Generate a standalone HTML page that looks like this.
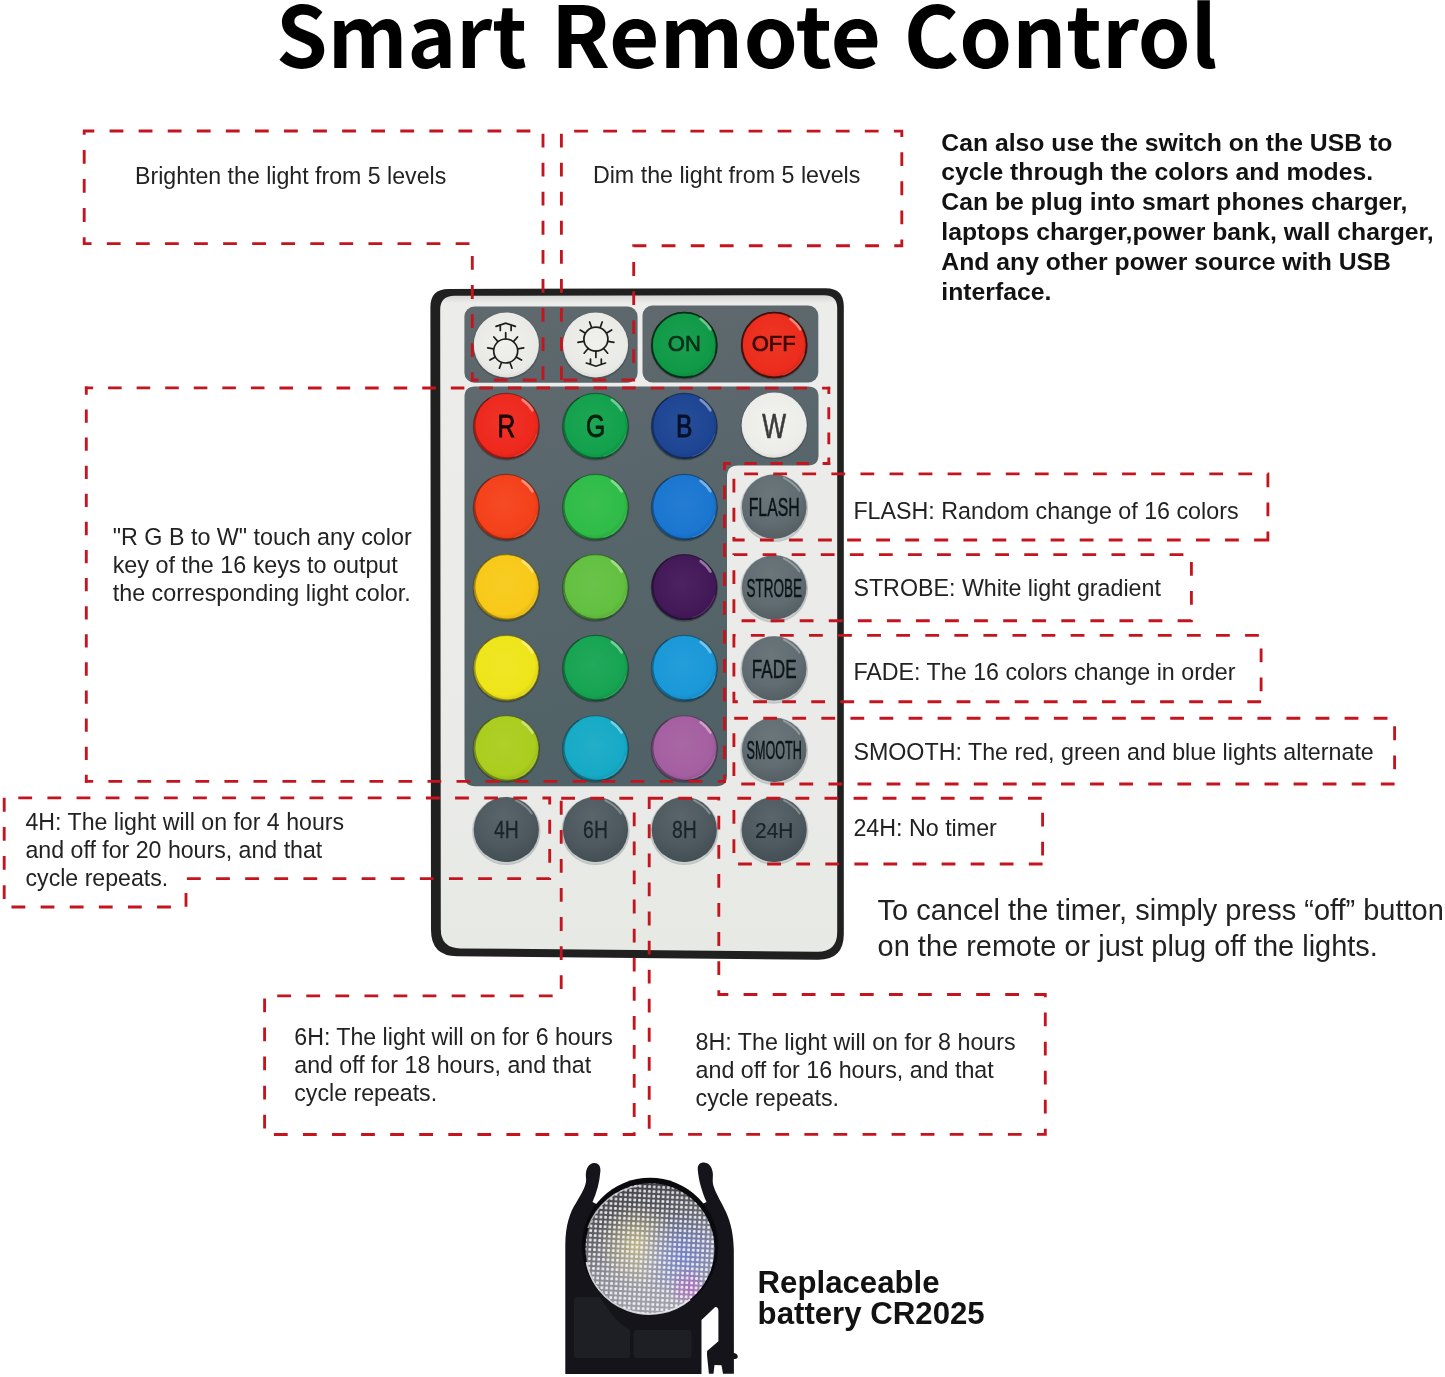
<!DOCTYPE html>
<html lang="en">
<head>
<meta charset="utf-8">
<title>Smart Remote Control</title>
<style>
html,body{margin:0;padding:0;background:#fff;}
body{width:1445px;height:1377px;overflow:hidden;}
svg{display:block;will-change:transform;}
text{font-family:"Liberation Sans",Arial,Helvetica,sans-serif;fill:#222;}
text.b{font-weight:bold;fill:#121212;}
text.title{font-family:"Noto Sans CJK SC","Liberation Sans",sans-serif;font-weight:bold;font-size:84.8px;fill:#000;}
</style>
</head>
<body>
<svg width="1445" height="1377" viewBox="0 0 1445 1377">
<defs>
<linearGradient id="face" x1="0" y1="0" x2="0" y2="1"><stop offset="0" stop-color="#d6d7d5"/><stop offset="0.012" stop-color="#ecedeb"/><stop offset="0.7" stop-color="#eaebe8"/><stop offset="1" stop-color="#e7e9e5"/></linearGradient>
<linearGradient id="panel" x1="0" y1="0" x2="1" y2="1"><stop offset="0" stop-color="#60696e"/><stop offset="1" stop-color="#59666b"/></linearGradient>
<linearGradient id="panel2" x1="0" y1="0" x2="0.25" y2="1"><stop offset="0" stop-color="#5f696e"/><stop offset="0.35" stop-color="#58666b"/><stop offset="1" stop-color="#506267"/></linearGradient>
<radialGradient id="b1" cx="0.5" cy="0.45" r="0.6"><stop offset="0" stop-color="#f0f0ed"/><stop offset="0.8" stop-color="#e9e9e5"/><stop offset="1" stop-color="#d2d2ce"/></radialGradient>
<radialGradient id="b2" cx="0.5" cy="0.45" r="0.6"><stop offset="0" stop-color="#f0f0ed"/><stop offset="0.8" stop-color="#e9e9e5"/><stop offset="1" stop-color="#d2d2ce"/></radialGradient>
<radialGradient id="b3" cx="0.47" cy="0.45" r="0.58"><stop offset="0" stop-color="#1b9f50"/><stop offset="0.8" stop-color="#0f9a47"/><stop offset="1" stop-color="#0d843d"/></radialGradient>
<radialGradient id="b4" cx="0.47" cy="0.45" r="0.58"><stop offset="0" stop-color="#ed3727"/><stop offset="0.8" stop-color="#ec2c1c"/><stop offset="1" stop-color="#cb2618"/></radialGradient>
<radialGradient id="b5" cx="0.47" cy="0.45" r="0.58"><stop offset="0" stop-color="#ef3328"/><stop offset="0.8" stop-color="#ee281d"/><stop offset="1" stop-color="#cd2219"/></radialGradient>
<radialGradient id="b6" cx="0.47" cy="0.45" r="0.58"><stop offset="0" stop-color="#1ea655"/><stop offset="0.8" stop-color="#12a14c"/><stop offset="1" stop-color="#0f8a41"/></radialGradient>
<radialGradient id="b7" cx="0.47" cy="0.45" r="0.58"><stop offset="0" stop-color="#284e98"/><stop offset="0.8" stop-color="#1d4593"/><stop offset="1" stop-color="#193b7e"/></radialGradient>
<radialGradient id="b8" cx="0.5" cy="0.45" r="0.6"><stop offset="0" stop-color="#f2f2ef"/><stop offset="0.8" stop-color="#ecece8"/><stop offset="1" stop-color="#d4d4d1"/></radialGradient>
<radialGradient id="b9" cx="0.47" cy="0.45" r="0.58"><stop offset="0" stop-color="#f54a25"/><stop offset="0.8" stop-color="#f4411a"/><stop offset="1" stop-color="#d23816"/></radialGradient>
<radialGradient id="b10" cx="0.47" cy="0.45" r="0.58"><stop offset="0" stop-color="#39bf50"/><stop offset="0.8" stop-color="#2fbc47"/><stop offset="1" stop-color="#28a23d"/></radialGradient>
<radialGradient id="b11" cx="0.47" cy="0.45" r="0.58"><stop offset="0" stop-color="#257dd2"/><stop offset="0.8" stop-color="#1a76d0"/><stop offset="1" stop-color="#1665b3"/></radialGradient>
<radialGradient id="b12" cx="0.45" cy="0.3" r="0.85"><stop offset="0" stop-color="#6b767b"/><stop offset="0.55" stop-color="#606c71"/><stop offset="1" stop-color="#4d565a"/></radialGradient>
<radialGradient id="b13" cx="0.47" cy="0.45" r="0.58"><stop offset="0" stop-color="#f8cc24"/><stop offset="0.8" stop-color="#f8c918"/><stop offset="1" stop-color="#d5ad15"/></radialGradient>
<radialGradient id="b14" cx="0.47" cy="0.45" r="0.58"><stop offset="0" stop-color="#6ac34a"/><stop offset="0.8" stop-color="#62c040"/><stop offset="1" stop-color="#54a537"/></radialGradient>
<radialGradient id="b15" cx="0.47" cy="0.45" r="0.58"><stop offset="0" stop-color="#4c2460"/><stop offset="0.8" stop-color="#431858"/><stop offset="1" stop-color="#3a154c"/></radialGradient>
<radialGradient id="b16" cx="0.45" cy="0.3" r="0.85"><stop offset="0" stop-color="#6b767b"/><stop offset="0.55" stop-color="#606c71"/><stop offset="1" stop-color="#4d565a"/></radialGradient>
<radialGradient id="b17" cx="0.47" cy="0.45" r="0.58"><stop offset="0" stop-color="#f0e625"/><stop offset="0.8" stop-color="#efe51a"/><stop offset="1" stop-color="#cec516"/></radialGradient>
<radialGradient id="b18" cx="0.47" cy="0.45" r="0.58"><stop offset="0" stop-color="#22a95b"/><stop offset="0.8" stop-color="#16a452"/><stop offset="1" stop-color="#138d47"/></radialGradient>
<radialGradient id="b19" cx="0.47" cy="0.45" r="0.58"><stop offset="0" stop-color="#259dda"/><stop offset="0.8" stop-color="#1a98d8"/><stop offset="1" stop-color="#1683ba"/></radialGradient>
<radialGradient id="b20" cx="0.45" cy="0.3" r="0.85"><stop offset="0" stop-color="#6b767b"/><stop offset="0.55" stop-color="#606c71"/><stop offset="1" stop-color="#4d565a"/></radialGradient>
<radialGradient id="b21" cx="0.47" cy="0.45" r="0.58"><stop offset="0" stop-color="#aed029"/><stop offset="0.8" stop-color="#aacd1e"/><stop offset="1" stop-color="#92b01a"/></radialGradient>
<radialGradient id="b22" cx="0.47" cy="0.45" r="0.58"><stop offset="0" stop-color="#22aec9"/><stop offset="0.8" stop-color="#16aac6"/><stop offset="1" stop-color="#1392aa"/></radialGradient>
<radialGradient id="b23" cx="0.47" cy="0.45" r="0.58"><stop offset="0" stop-color="#a967a5"/><stop offset="0.8" stop-color="#a45fa0"/><stop offset="1" stop-color="#8d528a"/></radialGradient>
<radialGradient id="b24" cx="0.45" cy="0.3" r="0.85"><stop offset="0" stop-color="#6b767b"/><stop offset="0.55" stop-color="#606c71"/><stop offset="1" stop-color="#4d565a"/></radialGradient>
<radialGradient id="b25" cx="0.45" cy="0.3" r="0.85"><stop offset="0" stop-color="#59656a"/><stop offset="0.55" stop-color="#4d595f"/><stop offset="1" stop-color="#3e474c"/></radialGradient>
<radialGradient id="b26" cx="0.45" cy="0.3" r="0.85"><stop offset="0" stop-color="#59656a"/><stop offset="0.55" stop-color="#4d595f"/><stop offset="1" stop-color="#3e474c"/></radialGradient>
<radialGradient id="b27" cx="0.45" cy="0.3" r="0.85"><stop offset="0" stop-color="#59656a"/><stop offset="0.55" stop-color="#4d595f"/><stop offset="1" stop-color="#3e474c"/></radialGradient>
<radialGradient id="b28" cx="0.45" cy="0.3" r="0.85"><stop offset="0" stop-color="#59656a"/><stop offset="0.55" stop-color="#4d595f"/><stop offset="1" stop-color="#3e474c"/></radialGradient>
<linearGradient id="coinbase" x1="0.3" y1="0" x2="0.6" y2="1"><stop offset="0" stop-color="#3c3c42"/><stop offset="0.3" stop-color="#5c5c64"/><stop offset="0.6" stop-color="#8a8a94"/><stop offset="1" stop-color="#a2a2ac"/></linearGradient>
<pattern id="dots" width="4.7" height="4.7" patternUnits="userSpaceOnUse" patternTransform="rotate(3 650 1249)"><rect x="1" y="1" width="2.8" height="2.8" rx="1" fill="#f4f4f8" fill-opacity="0.93"/></pattern>
<radialGradient id="coinY" cx="0.4" cy="0.47" r="0.32"><stop offset="0" stop-color="#d8ca80" stop-opacity="0.7"/><stop offset="1" stop-color="#d8ca80" stop-opacity="0"/></radialGradient>
<radialGradient id="coinB" cx="0.74" cy="0.55" r="0.34"><stop offset="0" stop-color="#5670e0" stop-opacity="0.6"/><stop offset="1" stop-color="#5670e0" stop-opacity="0"/></radialGradient>
<radialGradient id="coinP" cx="0.8" cy="0.8" r="0.16"><stop offset="0" stop-color="#b850c0" stop-opacity="0.6"/><stop offset="1" stop-color="#b850c0" stop-opacity="0"/></radialGradient>
<radialGradient id="coinshade" cx="0.5" cy="0.6" r="0.62"><stop offset="0" stop-color="#fff" stop-opacity="0.12"/><stop offset="0.75" stop-color="#fff" stop-opacity="0"/><stop offset="1" stop-color="#000" stop-opacity="0.18"/></radialGradient>
</defs>
<rect width="1445" height="1377" fill="#fff"/>
<text x="276.1" y="68.3" class="title" textLength="251.0" lengthAdjust="spacingAndGlyphs">Smart</text>
<text x="550.7" y="68.3" class="title" textLength="330.3" lengthAdjust="spacingAndGlyphs">Remote</text>
<text x="903.8" y="68.3" class="title" textLength="313.5" lengthAdjust="spacingAndGlyphs">Control</text>
<path d="M448.5 289 L825.8 288.2 Q843.8 288.2 843.8 306.2 L843.8 934 Q843.8 960 817.8 959.7 L457 956.3 Q431 956 431 930 L430.4 307 Q430.4 289 448.5 289 Z" fill="#202021"/>
<path d="M454.5 295.8 L824 295.2 Q837.2 295.2 837.2 308 L837.2 932 Q837.2 952 817 951.8 L460.5 948.4 Q440.8 948.2 440.8 929 L440.2 310 Q440.2 295.8 454.5 295.8 Z" fill="url(#face)"/>
<rect x="464.4" y="306.5" width="173.2" height="76.3" rx="10" fill="url(#panel)"/>
<rect x="642.5" y="305.5" width="175.8" height="77" rx="10" fill="url(#panel)"/>
<path d="M475 386.5 H808 Q818.5 386.5 818.5 397 V455 Q818.5 465.5 808 465.5 H738 Q727 465.5 727 476.5 V775.8 Q727 786.3 716.5 786.3 H475 Q464.5 786.3 464.5 775.8 V397 Q464.5 386.5 475 386.5 Z" fill="url(#panel2)"/>
<circle cx="506.3" cy="345.8" r="33.6" fill="#30383c" opacity="0.35"/>
<circle cx="506.3" cy="345.0" r="32.6" fill="url(#b1)"/>
<circle cx="595.5" cy="345.8" r="33.6" fill="#30383c" opacity="0.35"/>
<circle cx="595.5" cy="345.0" r="32.6" fill="url(#b2)"/>
<circle cx="684.3" cy="345.8" r="33.7" fill="#1c2528" opacity="0.4"/>
<circle cx="684.3" cy="345.0" r="32.6" fill="url(#b3)" stroke="#084d24" stroke-width="1.1" stroke-opacity="0.6"/>
<circle cx="684.3" cy="345.0" r="32.300000000000004" fill="none" stroke="#031f0e" stroke-width="1.8" stroke-opacity="0.8"/>
<path d="M700.6 318.9 Q707.1 323.5 710.4 329.4" stroke="#fff" stroke-width="2.6" stroke-linecap="round" fill="none" opacity="0.42"/>
<path d="M714.6 353.1 A31.8 31.8 0 0 1 692.4 375.3" stroke="#63bd87" stroke-width="1.2" fill="none" opacity="0.35"/>
<circle cx="774.2" cy="345.8" r="33.7" fill="#1c2528" opacity="0.4"/>
<circle cx="774.2" cy="345.0" r="32.6" fill="url(#b4)" stroke="#76160e" stroke-width="1.1" stroke-opacity="0.6"/>
<circle cx="774.2" cy="345.0" r="32.300000000000004" fill="none" stroke="#2f0906" stroke-width="1.8" stroke-opacity="0.8"/>
<path d="M790.5 318.9 Q797.0 323.5 800.3 329.4" stroke="#fff" stroke-width="2.6" stroke-linecap="round" fill="none" opacity="0.42"/>
<path d="M804.5 353.1 A31.8 31.8 0 0 1 782.4 375.3" stroke="#f3766b" stroke-width="1.2" fill="none" opacity="0.35"/>
<circle cx="506.3" cy="426.8" r="33.7" fill="#1c2528" opacity="0.4"/>
<circle cx="506.3" cy="426.0" r="32.6" fill="url(#b5)" stroke="#77140e" stroke-width="1.1" stroke-opacity="0.6"/>
<path d="M490.0 397.8 A32.6 32.6 0 0 0 522.6 454.2" fill="none" stroke="#470c09" stroke-width="1.3" stroke-opacity="0.45"/>
<path d="M522.6 399.9 Q529.1 404.5 532.4 410.4" stroke="#fff" stroke-width="2.6" stroke-linecap="round" fill="none" opacity="0.42"/>
<path d="M536.6 434.1 A31.8 31.8 0 0 1 514.5 456.3" stroke="#f4736c" stroke-width="1.2" fill="none" opacity="0.35"/>
<circle cx="595.5" cy="426.8" r="33.7" fill="#1c2528" opacity="0.4"/>
<circle cx="595.5" cy="426.0" r="32.6" fill="url(#b6)" stroke="#095026" stroke-width="1.1" stroke-opacity="0.6"/>
<path d="M579.2 397.8 A32.6 32.6 0 0 0 611.8 454.2" fill="none" stroke="#053017" stroke-width="1.3" stroke-opacity="0.45"/>
<path d="M611.8 399.9 Q618.3 404.5 621.6 410.4" stroke="#fff" stroke-width="2.6" stroke-linecap="round" fill="none" opacity="0.42"/>
<path d="M625.8 434.1 A31.8 31.8 0 0 1 603.6 456.3" stroke="#65c28b" stroke-width="1.2" fill="none" opacity="0.35"/>
<circle cx="684.3" cy="426.8" r="33.7" fill="#1c2528" opacity="0.4"/>
<circle cx="684.3" cy="426.0" r="32.6" fill="url(#b7)" stroke="#0e224a" stroke-width="1.1" stroke-opacity="0.6"/>
<path d="M668.0 397.8 A32.6 32.6 0 0 0 700.6 454.2" fill="none" stroke="#09152c" stroke-width="1.3" stroke-opacity="0.45"/>
<path d="M700.6 399.9 Q707.1 404.5 710.4 410.4" stroke="#fff" stroke-width="2.6" stroke-linecap="round" fill="none" opacity="0.42"/>
<path d="M714.6 434.1 A31.8 31.8 0 0 1 692.4 456.3" stroke="#6c86b9" stroke-width="1.2" fill="none" opacity="0.35"/>
<circle cx="774.2" cy="426.0" r="33.6" fill="#30383c" opacity="0.35"/>
<circle cx="774.2" cy="425.2" r="32.6" fill="url(#b8)"/>
<circle cx="506.3" cy="507.8" r="33.7" fill="#1c2528" opacity="0.4"/>
<circle cx="506.3" cy="507.0" r="32.6" fill="url(#b9)" stroke="#7a200d" stroke-width="1.1" stroke-opacity="0.6"/>
<path d="M490.0 478.8 A32.6 32.6 0 0 0 522.6 535.2" fill="none" stroke="#491408" stroke-width="1.3" stroke-opacity="0.45"/>
<path d="M522.6 480.9 Q529.1 485.5 532.4 491.4" stroke="#fff" stroke-width="2.6" stroke-linecap="round" fill="none" opacity="0.42"/>
<path d="M536.6 515.1 A31.8 31.8 0 0 1 514.5 537.3" stroke="#f8846a" stroke-width="1.2" fill="none" opacity="0.35"/>
<circle cx="595.5" cy="507.8" r="33.7" fill="#1c2528" opacity="0.4"/>
<circle cx="595.5" cy="507.0" r="32.6" fill="url(#b10)" stroke="#185e24" stroke-width="1.1" stroke-opacity="0.6"/>
<path d="M579.2 478.8 A32.6 32.6 0 0 0 611.8 535.2" fill="none" stroke="#0e3815" stroke-width="1.3" stroke-opacity="0.45"/>
<path d="M611.8 480.9 Q618.3 485.5 621.6 491.4" stroke="#fff" stroke-width="2.6" stroke-linecap="round" fill="none" opacity="0.42"/>
<path d="M625.8 515.1 A31.8 31.8 0 0 1 603.6 537.3" stroke="#78d387" stroke-width="1.2" fill="none" opacity="0.35"/>
<circle cx="684.3" cy="507.8" r="33.7" fill="#1c2528" opacity="0.4"/>
<circle cx="684.3" cy="507.0" r="32.6" fill="url(#b11)" stroke="#0d3b68" stroke-width="1.1" stroke-opacity="0.6"/>
<path d="M668.0 478.8 A32.6 32.6 0 0 0 700.6 535.2" fill="none" stroke="#08233e" stroke-width="1.3" stroke-opacity="0.45"/>
<path d="M700.6 480.9 Q707.1 485.5 710.4 491.4" stroke="#fff" stroke-width="2.6" stroke-linecap="round" fill="none" opacity="0.42"/>
<path d="M714.6 515.1 A31.8 31.8 0 0 1 692.4 537.3" stroke="#6aa6e0" stroke-width="1.2" fill="none" opacity="0.35"/>
<circle cx="774.2" cy="508.09999999999997" r="33.9" fill="#9aa3a4" opacity="0.55"/>
<circle cx="774.2" cy="506.9" r="32.3" fill="url(#b12)"/>
<path d="M754.2 532.7 A32.3 32.3 0 0 0 794.2 532.7" stroke="#cfd6d6" stroke-width="1.6" fill="none" opacity="0.75" stroke-linecap="round"/>
<path d="M783.9 477.8 Q794.2 483.0 799.4 490.8" stroke="#e8eeee" stroke-width="2" stroke-linecap="round" fill="none" opacity="0.35"/>
<circle cx="506.3" cy="588.0" r="33.7" fill="#1c2528" opacity="0.4"/>
<circle cx="506.3" cy="587.2" r="32.6" fill="url(#b13)" stroke="#7c640c" stroke-width="1.1" stroke-opacity="0.6"/>
<path d="M490.0 559.0 A32.6 32.6 0 0 0 522.6 615.4" fill="none" stroke="#4a3c07" stroke-width="1.3" stroke-opacity="0.45"/>
<path d="M522.6 561.1 Q529.1 565.7 532.4 571.6" stroke="#fff" stroke-width="2.6" stroke-linecap="round" fill="none" opacity="0.42"/>
<path d="M536.6 595.4 A31.8 31.8 0 0 1 514.5 617.5" stroke="#fadc69" stroke-width="1.2" fill="none" opacity="0.35"/>
<circle cx="595.5" cy="588.0" r="33.7" fill="#1c2528" opacity="0.4"/>
<circle cx="595.5" cy="587.2" r="32.6" fill="url(#b14)" stroke="#316020" stroke-width="1.1" stroke-opacity="0.6"/>
<path d="M579.2 559.0 A32.6 32.6 0 0 0 611.8 615.4" fill="none" stroke="#1d3a13" stroke-width="1.3" stroke-opacity="0.45"/>
<path d="M611.8 561.1 Q618.3 565.7 621.6 571.6" stroke="#fff" stroke-width="2.6" stroke-linecap="round" fill="none" opacity="0.42"/>
<path d="M625.8 595.4 A31.8 31.8 0 0 1 603.6 617.5" stroke="#99d683" stroke-width="1.2" fill="none" opacity="0.35"/>
<circle cx="684.3" cy="588.0" r="33.7" fill="#1c2528" opacity="0.4"/>
<circle cx="684.3" cy="587.2" r="32.6" fill="url(#b15)" stroke="#220c2c" stroke-width="1.1" stroke-opacity="0.6"/>
<path d="M668.0 559.0 A32.6 32.6 0 0 0 700.6 615.4" fill="none" stroke="#14071a" stroke-width="1.3" stroke-opacity="0.45"/>
<path d="M700.6 561.1 Q707.1 565.7 710.4 571.6" stroke="#fff" stroke-width="2.6" stroke-linecap="round" fill="none" opacity="0.42"/>
<path d="M714.6 595.4 A31.8 31.8 0 0 1 692.4 617.5" stroke="#856992" stroke-width="1.2" fill="none" opacity="0.35"/>
<circle cx="774.2" cy="588.8000000000001" r="33.9" fill="#9aa3a4" opacity="0.55"/>
<circle cx="774.2" cy="587.6" r="32.3" fill="url(#b16)"/>
<path d="M754.2 613.4 A32.3 32.3 0 0 0 794.2 613.4" stroke="#cfd6d6" stroke-width="1.6" fill="none" opacity="0.75" stroke-linecap="round"/>
<path d="M783.9 558.5 Q794.2 563.7 799.4 571.5" stroke="#e8eeee" stroke-width="2" stroke-linecap="round" fill="none" opacity="0.35"/>
<circle cx="506.3" cy="668.8" r="33.7" fill="#1c2528" opacity="0.4"/>
<circle cx="506.3" cy="668.0" r="32.6" fill="url(#b17)" stroke="#78720d" stroke-width="1.1" stroke-opacity="0.6"/>
<path d="M490.0 639.8 A32.6 32.6 0 0 0 522.6 696.2" fill="none" stroke="#484508" stroke-width="1.3" stroke-opacity="0.45"/>
<path d="M522.6 641.9 Q529.1 646.5 532.4 652.4" stroke="#fff" stroke-width="2.6" stroke-linecap="round" fill="none" opacity="0.42"/>
<path d="M536.6 676.1 A31.8 31.8 0 0 1 514.5 698.3" stroke="#f5ee6a" stroke-width="1.2" fill="none" opacity="0.35"/>
<circle cx="595.5" cy="668.8" r="33.7" fill="#1c2528" opacity="0.4"/>
<circle cx="595.5" cy="668.0" r="32.6" fill="url(#b18)" stroke="#0b5229" stroke-width="1.1" stroke-opacity="0.6"/>
<path d="M579.2 639.8 A32.6 32.6 0 0 0 611.8 696.2" fill="none" stroke="#073119" stroke-width="1.3" stroke-opacity="0.45"/>
<path d="M611.8 641.9 Q618.3 646.5 621.6 652.4" stroke="#fff" stroke-width="2.6" stroke-linecap="round" fill="none" opacity="0.42"/>
<path d="M625.8 676.1 A31.8 31.8 0 0 1 603.6 698.3" stroke="#68c48f" stroke-width="1.2" fill="none" opacity="0.35"/>
<circle cx="684.3" cy="668.8" r="33.7" fill="#1c2528" opacity="0.4"/>
<circle cx="684.3" cy="668.0" r="32.6" fill="url(#b19)" stroke="#0d4c6c" stroke-width="1.1" stroke-opacity="0.6"/>
<path d="M668.0 639.8 A32.6 32.6 0 0 0 700.6 696.2" fill="none" stroke="#082e41" stroke-width="1.3" stroke-opacity="0.45"/>
<path d="M700.6 641.9 Q707.1 646.5 710.4 652.4" stroke="#fff" stroke-width="2.6" stroke-linecap="round" fill="none" opacity="0.42"/>
<path d="M714.6 676.1 A31.8 31.8 0 0 1 692.4 698.3" stroke="#6abce6" stroke-width="1.2" fill="none" opacity="0.35"/>
<circle cx="774.2" cy="669.8000000000001" r="33.9" fill="#9aa3a4" opacity="0.55"/>
<circle cx="774.2" cy="668.6" r="32.3" fill="url(#b20)"/>
<path d="M754.2 694.4 A32.3 32.3 0 0 0 794.2 694.4" stroke="#cfd6d6" stroke-width="1.6" fill="none" opacity="0.75" stroke-linecap="round"/>
<path d="M783.9 639.5 Q794.2 644.7 799.4 652.5" stroke="#e8eeee" stroke-width="2" stroke-linecap="round" fill="none" opacity="0.35"/>
<circle cx="506.3" cy="749.0999999999999" r="33.7" fill="#1c2528" opacity="0.4"/>
<circle cx="506.3" cy="748.3" r="32.6" fill="url(#b21)" stroke="#55660f" stroke-width="1.1" stroke-opacity="0.6"/>
<path d="M490.0 720.1 A32.6 32.6 0 0 0 522.6 776.5" fill="none" stroke="#333e09" stroke-width="1.3" stroke-opacity="0.45"/>
<path d="M522.6 722.2 Q529.1 726.8 532.4 732.7" stroke="#fff" stroke-width="2.6" stroke-linecap="round" fill="none" opacity="0.42"/>
<path d="M536.6 756.4 A31.8 31.8 0 0 1 514.5 778.6" stroke="#c8de6d" stroke-width="1.2" fill="none" opacity="0.35"/>
<circle cx="595.5" cy="749.0999999999999" r="33.7" fill="#1c2528" opacity="0.4"/>
<circle cx="595.5" cy="748.3" r="32.6" fill="url(#b22)" stroke="#0b5563" stroke-width="1.1" stroke-opacity="0.6"/>
<path d="M579.2 720.1 A32.6 32.6 0 0 0 611.8 776.5" fill="none" stroke="#07333b" stroke-width="1.3" stroke-opacity="0.45"/>
<path d="M611.8 722.2 Q618.3 726.8 621.6 732.7" stroke="#fff" stroke-width="2.6" stroke-linecap="round" fill="none" opacity="0.42"/>
<path d="M625.8 756.4 A31.8 31.8 0 0 1 603.6 778.6" stroke="#68c8da" stroke-width="1.2" fill="none" opacity="0.35"/>
<circle cx="684.3" cy="749.0999999999999" r="33.7" fill="#1c2528" opacity="0.4"/>
<circle cx="684.3" cy="748.3" r="32.6" fill="url(#b23)" stroke="#523050" stroke-width="1.1" stroke-opacity="0.6"/>
<path d="M668.0 720.1 A32.6 32.6 0 0 0 700.6 776.5" fill="none" stroke="#311d30" stroke-width="1.3" stroke-opacity="0.45"/>
<path d="M700.6 722.2 Q707.1 726.8 710.4 732.7" stroke="#fff" stroke-width="2.6" stroke-linecap="round" fill="none" opacity="0.42"/>
<path d="M714.6 756.4 A31.8 31.8 0 0 1 692.4 778.6" stroke="#c497c1" stroke-width="1.2" fill="none" opacity="0.35"/>
<circle cx="774.2" cy="751.2" r="33.9" fill="#9aa3a4" opacity="0.55"/>
<circle cx="774.2" cy="750.0" r="32.3" fill="url(#b24)"/>
<path d="M754.2 775.8 A32.3 32.3 0 0 0 794.2 775.8" stroke="#cfd6d6" stroke-width="1.6" fill="none" opacity="0.75" stroke-linecap="round"/>
<path d="M783.9 720.9 Q794.2 726.1 799.4 733.9" stroke="#e8eeee" stroke-width="2" stroke-linecap="round" fill="none" opacity="0.35"/>
<circle cx="506.3" cy="830.9000000000001" r="34.2" fill="#9aa3a4" opacity="0.55"/>
<circle cx="506.3" cy="829.7" r="32.6" fill="url(#b25)"/>
<path d="M486.1 855.8 A32.6 32.6 0 0 0 526.5 855.8" stroke="#cfd6d6" stroke-width="1.6" fill="none" opacity="0.75" stroke-linecap="round"/>
<path d="M516.1 800.4 Q526.5 805.6 531.7 813.4" stroke="#e8eeee" stroke-width="2" stroke-linecap="round" fill="none" opacity="0.35"/>
<circle cx="595.5" cy="830.9000000000001" r="34.2" fill="#9aa3a4" opacity="0.55"/>
<circle cx="595.5" cy="829.7" r="32.6" fill="url(#b26)"/>
<path d="M575.3 855.8 A32.6 32.6 0 0 0 615.7 855.8" stroke="#cfd6d6" stroke-width="1.6" fill="none" opacity="0.75" stroke-linecap="round"/>
<path d="M605.3 800.4 Q615.7 805.6 620.9 813.4" stroke="#e8eeee" stroke-width="2" stroke-linecap="round" fill="none" opacity="0.35"/>
<circle cx="684.3" cy="830.9000000000001" r="34.2" fill="#9aa3a4" opacity="0.55"/>
<circle cx="684.3" cy="829.7" r="32.6" fill="url(#b27)"/>
<path d="M664.1 855.8 A32.6 32.6 0 0 0 704.5 855.8" stroke="#cfd6d6" stroke-width="1.6" fill="none" opacity="0.75" stroke-linecap="round"/>
<path d="M694.1 800.4 Q704.5 805.6 709.7 813.4" stroke="#e8eeee" stroke-width="2" stroke-linecap="round" fill="none" opacity="0.35"/>
<circle cx="774.2" cy="830.9000000000001" r="34.2" fill="#9aa3a4" opacity="0.55"/>
<circle cx="774.2" cy="829.7" r="32.6" fill="url(#b28)"/>
<path d="M754.0 855.8 A32.6 32.6 0 0 0 794.4 855.8" stroke="#cfd6d6" stroke-width="1.6" fill="none" opacity="0.75" stroke-linecap="round"/>
<path d="M784.0 800.4 Q794.4 805.6 799.6 813.4" stroke="#e8eeee" stroke-width="2" stroke-linecap="round" fill="none" opacity="0.35"/>
<text transform="translate(684.3 351.3) scale(1.0 1)" text-anchor="middle" font-size="22" font-weight="normal" style="fill:#06301a" stroke="#06301a" stroke-width="0.7">ON</text>
<text transform="translate(773.7 351.3) scale(1.0 1)" text-anchor="middle" font-size="22" font-weight="normal" style="fill:#3c0a06" stroke="#3c0a06" stroke-width="0.7">OFF</text>
<text transform="translate(506.3 437.3) scale(0.78 1)" text-anchor="middle" font-size="31.5" font-weight="normal" style="fill:#1a0404" stroke="#1a0404" stroke-width="0.9" paint-order="stroke">R</text>
<text transform="translate(595.5 437.3) scale(0.78 1)" text-anchor="middle" font-size="31.5" font-weight="normal" style="fill:#04200c" stroke="#04200c" stroke-width="0.9" paint-order="stroke">G</text>
<text transform="translate(684.3 437.3) scale(0.78 1)" text-anchor="middle" font-size="31.5" font-weight="normal" style="fill:#06102a" stroke="#06102a" stroke-width="0.9" paint-order="stroke">B</text>
<text transform="translate(774.2 437.9) scale(0.72 1)" text-anchor="middle" font-size="35" font-weight="normal" style="fill:#3a3a3a" stroke="#3a3a3a" stroke-width="0.7">W</text>
<text transform="translate(774.2 516.2) scale(0.61 1)" text-anchor="middle" font-size="26" font-weight="normal" style="fill:#0c1418" stroke="#0c1418" stroke-width="0.45">FLASH</text>
<text transform="translate(774.2 596.8) scale(0.52 1)" text-anchor="middle" font-size="26" font-weight="normal" style="fill:#0c1418" stroke="#0c1418" stroke-width="0.45">STROBE</text>
<text transform="translate(774.2 678.0) scale(0.66 1)" text-anchor="middle" font-size="26" font-weight="normal" style="fill:#0c1418" stroke="#0c1418" stroke-width="0.45">FADE</text>
<text transform="translate(774.2 759.3) scale(0.485 1)" text-anchor="middle" font-size="26" font-weight="normal" style="fill:#0c1418" stroke="#0c1418" stroke-width="0.45">SMOOTH</text>
<text transform="translate(506.3 838.0) scale(0.82 1)" text-anchor="middle" font-size="23.7" font-weight="normal" style="fill:#18242a" stroke="#18242a" stroke-width="0.25">4H</text>
<text transform="translate(595.5 838.0) scale(0.82 1)" text-anchor="middle" font-size="23.7" font-weight="normal" style="fill:#18242a" stroke="#18242a" stroke-width="0.25">6H</text>
<text transform="translate(684.3 838.0) scale(0.82 1)" text-anchor="middle" font-size="23.7" font-weight="normal" style="fill:#18242a" stroke="#18242a" stroke-width="0.25">8H</text>
<text transform="translate(774.2 837.7) scale(0.93 1)" text-anchor="middle" font-size="22.5" font-weight="normal" style="fill:#18242a" stroke="#18242a" stroke-width="0.25">24H</text>
<circle cx="505.7" cy="351.0" r="12" fill="none" stroke="#1c1c1c" stroke-width="1.7" stroke-linecap="round"/><path d="M505.7 339.0 L505.7 332.7 M513.7 341.4 L517.5 337.0 M518.0 348.8 L523.7 347.8 M516.5 357.2 L521.5 360.1 M510.0 362.7 L512.0 368.2 M501.4 362.7 L499.4 368.2 M494.9 357.2 L489.9 360.1 M493.4 348.8 L487.7 347.8 M497.7 341.4 L493.9 337.0 M496.09999999999997 326.4 L505.7 323.2 L515.3 326.4 M500.3 325.59999999999997 V330.4 M511.09999999999997 325.59999999999997 V330.4" fill="none" stroke="#1c1c1c" stroke-width="1.7" stroke-linecap="round"/>
<circle cx="595.9" cy="339.2" r="12" fill="none" stroke="#1c1c1c" stroke-width="1.7" stroke-linecap="round"/><path d="M595.9 351.2 L595.9 357.5 M587.9 348.8 L584.1 353.2 M583.6 341.4 L577.9 342.4 M585.1 332.9 L580.1 330.1 M591.6 327.5 L589.6 322.0 M600.2 327.5 L602.2 322.0 M606.7 332.9 L611.7 330.0 M608.2 341.4 L613.9 342.4 M603.9 348.8 L607.7 353.2 M586.3 363.0 L595.9 366.2 L605.5 363.0 M590.5 363.8 V359.0 M601.3 363.8 V359.0" fill="none" stroke="#1c1c1c" stroke-width="1.7" stroke-linecap="round"/>
<path d="M543 380 L543 131 L84.2 131 L84.2 243.6 L472.3 243.6 L472.3 380 Z" fill="none" stroke="#c4151e" stroke-width="2.85" stroke-dasharray="13.8 15.27" stroke-dashoffset="0" stroke-linejoin="miter"/>
<path d="M561.4 380 L561.4 131.1 L901.8 131.1 L901.8 245.7 L633.7 245.7 L633.7 380 Z" fill="none" stroke="#c4151e" stroke-width="2.85" stroke-dasharray="13.8 15.27" stroke-dashoffset="0" stroke-linejoin="miter"/>
<path d="M84.88 387.90 L830.22 388.10" fill="none" stroke="#c4151e" stroke-width="2.85" stroke-dasharray="13.56 15.00" stroke-dashoffset="5.35"/>
<path d="M828.80 386.68 L828.80 464.93" fill="none" stroke="#c4151e" stroke-width="2.85" stroke-dasharray="11.93 13.20" stroke-dashoffset="4.54"/>
<path d="M830.22 463.50 L723.08 463.50" fill="none" stroke="#c4151e" stroke-width="2.85" stroke-dasharray="12.38 13.70" stroke-dashoffset="4.76"/>
<path d="M724.50 462.07 L724.50 782.82" fill="none" stroke="#c4151e" stroke-width="2.85" stroke-dasharray="13.72 15.18" stroke-dashoffset="5.43"/>
<path d="M725.92 781.40 L84.88 781.40" fill="none" stroke="#c4151e" stroke-width="2.85" stroke-dasharray="13.77 15.24" stroke-dashoffset="5.46"/>
<path d="M86.30 782.82 L86.30 386.47" fill="none" stroke="#c4151e" stroke-width="2.85" stroke-dasharray="13.34 14.76" stroke-dashoffset="5.25"/>
<path d="M1267.9 540.0 L733.9 540.0 L733.9 473.8 L1267.9 473.8 Z" fill="none" stroke="#c4151e" stroke-width="2.85" stroke-dasharray="13.8 15.27" stroke-dashoffset="0" stroke-linejoin="miter"/>
<path d="M1191.4 620.7 L733.9 620.7 L733.9 554.6 L1191.4 554.6 Z" fill="none" stroke="#c4151e" stroke-width="2.85" stroke-dasharray="13.8 15.27" stroke-dashoffset="0" stroke-linejoin="miter"/>
<path d="M1261.1 701.7 L733.9 701.7 L733.9 635.4 L1261.1 635.4 Z" fill="none" stroke="#c4151e" stroke-width="2.85" stroke-dasharray="13.8 15.27" stroke-dashoffset="0" stroke-linejoin="miter"/>
<path d="M1394.6 784.0 L733.9 784.0 L733.9 718.2 L1394.6 718.2 Z" fill="none" stroke="#c4151e" stroke-width="2.85" stroke-dasharray="13.8 15.27" stroke-dashoffset="0" stroke-linejoin="miter"/>
<path d="M1042.6 864.0 L733.9 864.0 L733.9 798.2 L1042.6 798.2 Z" fill="none" stroke="#c4151e" stroke-width="2.85" stroke-dasharray="13.8 15.27" stroke-dashoffset="0" stroke-linejoin="miter"/>
<path d="M4.2 797.8 L4.2 907 L186 907 L186 878.6 L549.7 878.6 L549.7 798 Z" fill="none" stroke="#c4151e" stroke-width="2.85" stroke-dasharray="13.83 15.29" stroke-dashoffset="0" stroke-linejoin="miter"/>
<path d="M561.2 798.2 L634.2 798.2 L634.2 1134.5 L264.6 1134.5 L264.6 995.8 L561.2 995.8 Z" fill="none" stroke="#c4151e" stroke-width="2.85" stroke-dasharray="13.8 15.27" stroke-dashoffset="0" stroke-linejoin="miter"/>
<path d="M649.2 798.2 L718.8 798.2 L718.8 994.5 L1045.3 994.5 L1045.3 1134.3 L649.2 1134.3 Z" fill="none" stroke="#c4151e" stroke-width="2.85" stroke-dasharray="13.8 15.27" stroke-dashoffset="0" stroke-linejoin="miter"/>
<text x="135.0" y="184.0" font-size="23.15">Brighten the light from 5 levels</text>
<text x="592.9" y="182.6" font-size="23.25">Dim the light from 5 levels</text>
<text transform="translate(941.3 150.5) scale(1.058 1)" font-size="23.4" class="b">Can also use the switch on the USB to</text>
<text transform="translate(941.3 180.35) scale(1.058 1)" font-size="23.4" class="b">cycle through the colors and modes.</text>
<text transform="translate(941.3 210.2) scale(1.058 1)" font-size="23.4" class="b">Can be plug into smart phones charger,</text>
<text transform="translate(941.3 240.05) scale(1.058 1)" font-size="23.4" class="b">laptops charger,power bank, wall charger,</text>
<text transform="translate(941.3 269.9) scale(1.058 1)" font-size="23.4" class="b">And any other power source with USB</text>
<text transform="translate(941.3 299.75) scale(1.058 1)" font-size="23.4" class="b">interface.</text>
<text x="112.7" y="545.1" font-size="23.32">"R G B to W" touch any color</text>
<text x="112.7" y="573.0500000000001" font-size="23.32">key of the 16 keys to output</text>
<text x="112.7" y="601.0" font-size="23.32">the corresponding light color.</text>
<text x="853.4" y="519.0" font-size="23.25">FLASH: Random change of 16 colors</text>
<text x="853.4" y="595.7" font-size="23.25">STROBE: White light gradient</text>
<text x="853.4" y="680.0" font-size="23.25">FADE: The 16 colors change in order</text>
<text x="853.4" y="759.6" font-size="23.25">SMOOTH: The red, green and blue lights alternate</text>
<text x="853.4" y="836.4" font-size="23.25">24H: No timer</text>
<text x="25.5" y="829.7" font-size="23.15">4H: The light will on for 4 hours</text>
<text x="25.5" y="857.85" font-size="23.15">and off for 20 hours, and that</text>
<text x="25.5" y="886.0" font-size="23.15">cycle repeats.</text>
<text x="294.3" y="1044.7" font-size="23.15">6H: The light will on for 6 hours</text>
<text x="294.3" y="1072.8500000000001" font-size="23.15">and off for 18 hours, and that</text>
<text x="294.3" y="1101.0" font-size="23.15">cycle repeats.</text>
<text x="695.6" y="1050.0" font-size="23.25">8H: The light will on for 8 hours</text>
<text x="695.6" y="1078.15" font-size="23.25">and off for 16 hours, and that</text>
<text x="695.6" y="1106.3" font-size="23.25">cycle repeats.</text>
<text x="877.6" y="919.6" font-size="28.97">To cancel the timer, simply press “off” button</text>
<text x="877.6" y="955.6" font-size="28.97">on the remote or just plug off the lights.</text>
<text x="757.6" y="1293.2" font-size="31.2" class="b">Replaceable</text>
<text x="757.6" y="1324.3" font-size="31.2" class="b">battery CR2025</text>
<g id="battery">
<path d="M565.3 1374 L565.3 1245 C565.5 1225 570 1212 576 1203 C582 1193 587 1185 586 1178 C585 1170 588 1163.5 594 1163 C599 1162.8 601 1167 600.3 1172 C599.5 1182 597 1192 592.5 1202 L649 1230 L706.5 1202 C702 1192 698.5 1180 697.8 1170 C697.3 1165 700 1162.6 703.6 1162.6 C708.5 1162.6 712 1166.5 712.8 1173 C713.2 1178 712 1181 713.5 1186 C716 1194 722 1203 726 1212 C731 1223 733.5 1235 733.8 1250 L733.9 1353 Q738 1354 737.7 1357 Q737.5 1359 733.9 1359 L733.9 1373.7 L723 1373.7 L721.5 1365.2 L714.5 1365 L713.5 1373.7 L708.9 1373.7 L707 1355 L707.1 1351.1 L718.4 1341.3 L718.4 1311 Q718.4 1307 715.2 1307.1 L701.5 1320.1 L701.5 1374 Z" fill="#14141a"/>
<path d="M574 1300 Q574 1297 577 1297 L600 1297 Q615 1322 630 1330 L630 1355 Q630 1358 627 1358 L577 1358 Q574 1358 574 1355 Z" fill="#1e1e25"/>
<rect x="633.5" y="1330" width="58" height="28" rx="3" fill="#1e1e25"/>
<circle cx="650" cy="1246" r="68.2" fill="#0a0a0e"/>
<ellipse cx="650" cy="1248.4" rx="64.4" ry="65.2" fill="url(#coinbase)"/>
<ellipse cx="650" cy="1248.4" rx="64.4" ry="65.2" fill="url(#coinY)"/>
<ellipse cx="650" cy="1248.4" rx="64.4" ry="65.2" fill="url(#coinB)"/>
<ellipse cx="650" cy="1248.4" rx="64.4" ry="65.2" fill="url(#coinP)"/>
<ellipse cx="650" cy="1248.4" rx="64.4" ry="65.2" fill="url(#dots)"/>
<ellipse cx="650" cy="1248.4" rx="64.4" ry="65.2" fill="url(#coinshade)"/>
<path d="M586.5 1262 A64 64 0 0 0 690 1299.5" fill="none" stroke="#f4f4f8" stroke-width="1.8" opacity="0.85"/>
<path d="M588 1228 A64 64 0 0 1 640 1185.5" fill="none" stroke="#e4e4ea" stroke-width="1.4" opacity="0.7"/>
</g>
</svg>
</body>
</html>
